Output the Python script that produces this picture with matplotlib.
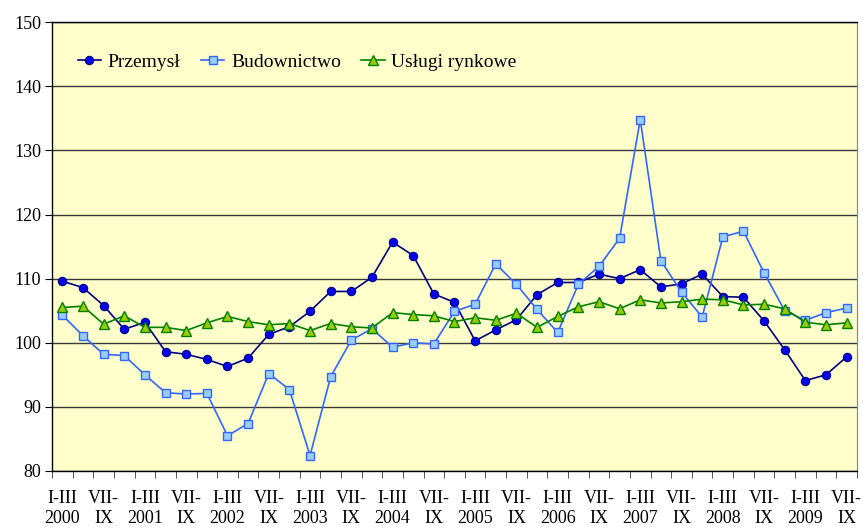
import numpy as np
import matplotlib
matplotlib.use("Agg")
import matplotlib.pyplot as plt
from matplotlib.ticker import FixedLocator

# kwartały 2000 I-III .. 2009 VII-IX
years = list(range(2000, 2010))
quarter_labels = []
for i in range(39):
    if i % 4 == 0:
        quarter_labels.append(f"I-III\n{years[i // 4]}")
    elif i % 4 == 2:
        quarter_labels.append("VII-\nIX")
    else:
        quarter_labels.append("")

przemysl = [109.6, 108.6, 105.8, 102.1, 103.2, 98.6, 98.2, 97.4, 96.3, 97.6,
            101.3, 102.5, 104.9, 108.0, 108.0, 110.2, 115.7, 113.6, 107.6, 106.3,
            100.3, 102.0, 103.6, 107.5, 109.4, 109.4, 110.7, 110.0, 111.4, 108.7,
            109.2, 110.7, 107.2, 107.1, 103.4, 98.9, 94.1, 95.0, 97.8]

budownictwo = [104.3, 101.1, 98.2, 98.0, 95.0, 92.2, 92.0, 92.1, 85.5, 87.4,
               95.2, 92.7, 82.4, 94.7, 100.4, 102.2, 99.3, 100.0, 99.8, 104.9,
               106.0, 112.3, 109.1, 105.2, 101.6, 109.1, 111.9, 116.3, 134.8, 112.8,
               107.9, 104.0, 116.5, 117.4, 110.9, 105.0, 103.5, 104.7, 105.4]

uslugi = [105.5, 105.7, 102.9, 104.2, 102.4, 102.4, 101.9, 103.1, 104.1, 103.3,
          102.8, 103.0, 101.9, 103.0, 102.5, 102.3, 104.7, 104.4, 104.2, 103.3,
          103.9, 103.5, 104.6, 102.4, 104.1, 105.6, 106.4, 105.3, 106.7, 106.2,
          106.4, 106.8, 106.7, 105.9, 106.0, 105.3, 103.2, 102.8, 103.1]

plt.rcParams['font.family'] = ['Liberation Serif', 'DejaVu Serif']

fig = plt.figure(figsize=(8.63, 5.28), dpi=100)
axe = fig.add_axes([0.0603, 0.108, 0.9327, 0.850])
axe.set_facecolor("#FFFFCC")

x = np.arange(len(przemysl))

axe.plot(x, przemysl, color="#000080", linewidth=1.2, marker='o', markersize=6,
         markerfacecolor="#0000EE", markeredgecolor="#000080", markeredgewidth=0.8,
         label="Przemysł", zorder=3)
axe.plot(x, budownictwo, color="#3366FF", linewidth=1.2, marker='s', markersize=5.5,
         markerfacecolor="#99CCFF", markeredgecolor="#3366FF", markeredgewidth=1.0,
         label="Budownictwo", zorder=3)
axe.plot(x, uslugi, color="#008000", linewidth=1.2, marker='^', markersize=6.5,
         markerfacecolor="#99CC00", markeredgecolor="#008000", markeredgewidth=1.0,
         label="Usługi rynkowe", zorder=3)

axe.set_xlim(-0.5, len(x) - 0.5)
axe.set_ylim(80, 150)
axe.set_yticks(range(80, 151, 10))
axe.yaxis.grid(True, color="#3a3a3a", linewidth=1.0)
axe.set_axisbelow(True)

# etykiety co drugi kwartał, kreski na granicach kategorii
axe.set_xticks(x[::2])
axe.set_xticklabels(quarter_labels[::2], linespacing=1.2)
axe.xaxis.set_minor_locator(FixedLocator(np.arange(-0.5, len(x), 1.0)))
axe.tick_params(axis='x', which='major', length=0, pad=14, labelsize=13)
axe.tick_params(axis='x', which='minor', length=5, color="#333333")
axe.tick_params(axis='y', length=5, labelsize=13, pad=3)

for side in ['left', 'bottom', 'top']:
    axe.spines[side].set_color("black")
    axe.spines[side].set_linewidth(1.0)
axe.spines['right'].set_color("#808080")

axe.legend(loc='upper left', bbox_to_anchor=(0.01, 0.97), ncol=3, frameon=False,
           fontsize=14, handlelength=1.2, handletextpad=0.35, columnspacing=1.05)

plt.savefig("out.png", dpi=100)
